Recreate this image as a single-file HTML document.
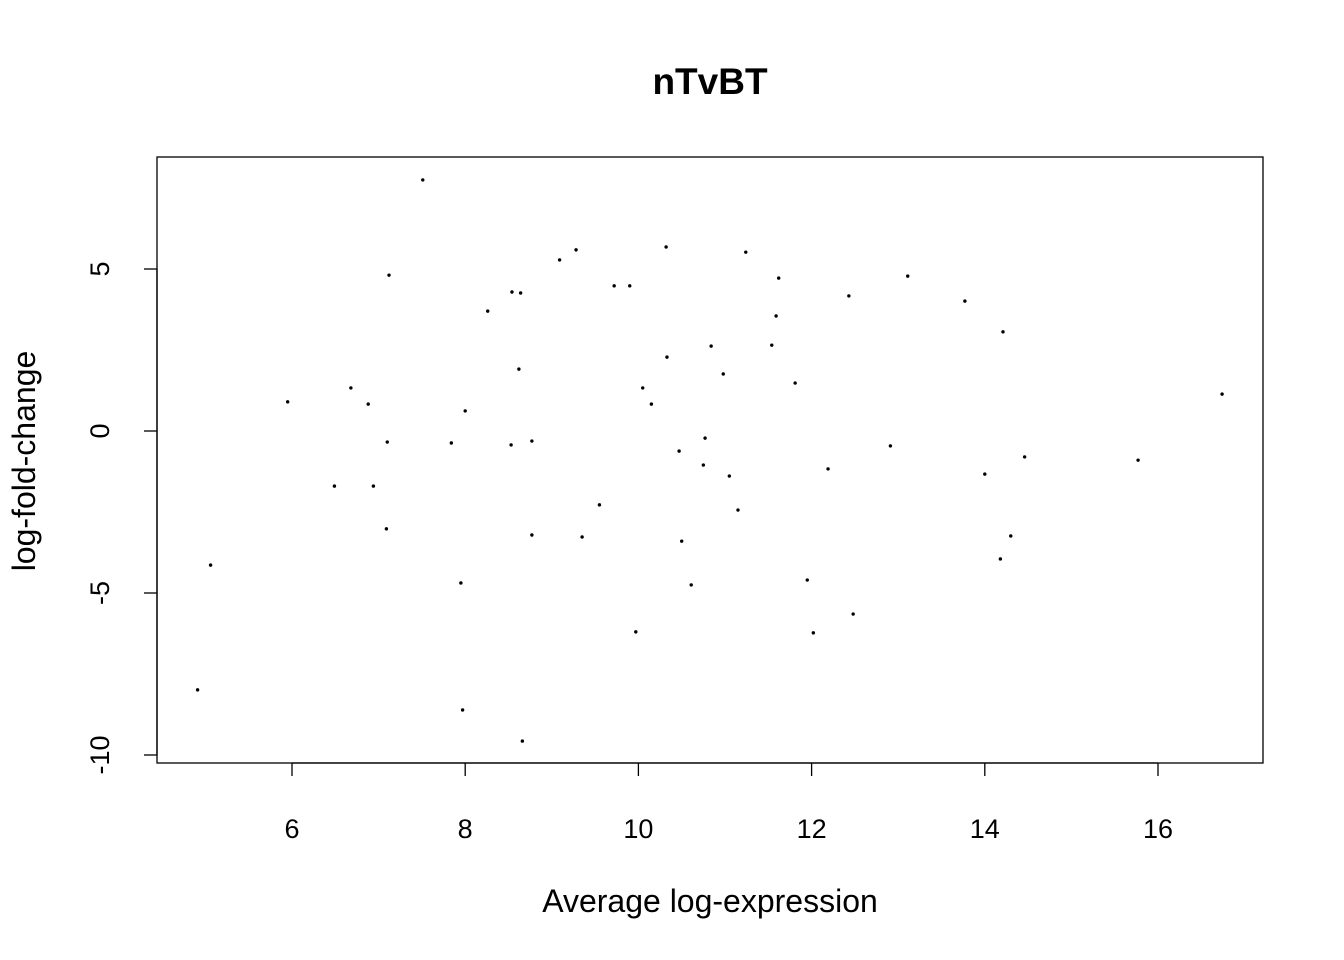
<!DOCTYPE html>
<html><head><meta charset="utf-8"><style>
html,body{margin:0;padding:0;background:#fff;}
svg{display:block;font-family:"Liberation Sans",Arial,sans-serif;}
</style></head><body>
<svg id="chart" width="1344" height="960">
<text x="710" y="94" text-anchor="middle" font-size="37" font-weight="bold">nTvBT</text>
<rect x="157" y="157" width="1106" height="606" fill="none" stroke="#000" stroke-width="1.3"/>
<g id="xaxis"></g>
<g id="yaxis"></g>
<g id="points"></g>
<text x="710" y="912" text-anchor="middle" font-size="32">Average log-expression</text>
<text transform="translate(35,461) rotate(-90)" text-anchor="middle" font-size="32">log-fold-change</text>
</svg>
<script>
const xTicks=[6,8,10,12,14,16];
const yTicks=[-10,-5,0,5];
const avgExpr=[7.51,7.12,9.09,9.28,10.32,11.24,11.62,13.11,13.77,12.43,8.26,8.54,8.64,9.72,9.90,11.59,14.21,11.54,10.84,10.33,8.62,10.98,11.81,6.68,10.05,5.95,6.88,10.15,8.00,16.74,7.10,7.84,8.53,8.77,10.77,12.91,10.47,14.46,15.77,10.75,12.19,11.05,14.00,6.49,6.94,9.55,11.15,7.09,8.77,9.35,14.30,10.50,5.06,14.18,7.95,10.61,11.95,12.48,9.97,12.02,4.91,7.97,8.66];
const logFC=[7.75,4.81,5.28,5.59,5.68,5.52,4.72,4.78,4.01,4.17,3.70,4.29,4.26,4.48,4.48,3.55,3.06,2.65,2.62,2.28,1.91,1.76,1.48,1.33,1.33,0.90,0.83,0.83,0.62,1.14,-0.34,-0.37,-0.43,-0.31,-0.22,-0.46,-0.62,-0.80,-0.90,-1.05,-1.17,-1.39,-1.33,-1.70,-1.70,-2.28,-2.44,-3.02,-3.21,-3.27,-3.24,-3.40,-4.14,-3.95,-4.69,-4.75,-4.60,-5.65,-6.20,-6.23,-7.99,-8.61,-9.57];
const NS="http://www.w3.org/2000/svg";
const sx=v=>292+(v-6)*86.6;
const sy=v=>431-v*32.4;
function mk(t,a,p){const e=document.createElementNS(NS,t);for(const k in a)e.setAttribute(k,a[k]);p.appendChild(e);return e;}
const xa=document.getElementById('xaxis'),ya=document.getElementById('yaxis'),pg=document.getElementById('points');
mk('line',{x1:sx(xTicks[0]),x2:sx(xTicks[xTicks.length-1]),y1:763,y2:763,stroke:'#000','stroke-width':1.3},xa);
xTicks.forEach(t=>{
  mk('line',{x1:sx(t),x2:sx(t),y1:763,y2:776,stroke:'#000','stroke-width':1.3},xa);
  const tx=mk('text',{x:sx(t),y:838,'text-anchor':'middle','font-size':27},xa);
  tx.textContent=t;
  
  
});
mk('line',{x1:157,x2:157,y1:sy(yTicks[0]),y2:sy(yTicks[yTicks.length-1]),stroke:'#000','stroke-width':1.3},ya);
yTicks.forEach(t=>{
  mk('line',{x1:144,x2:157,y1:sy(t),y2:sy(t),stroke:'#000','stroke-width':1.3},ya);
  const tx=mk('text',{transform:`translate(109,${sy(t)}) rotate(-90)`,'text-anchor':'middle','font-size':27},ya);
  tx.textContent=t;
  
  
});
avgExpr.forEach((x,i)=>{
  const c=mk('circle',{cx:sx(x),cy:sy(logFC[i]),r:1.7,fill:'#000'},pg);
  
  
});
</script>
</body></html>
